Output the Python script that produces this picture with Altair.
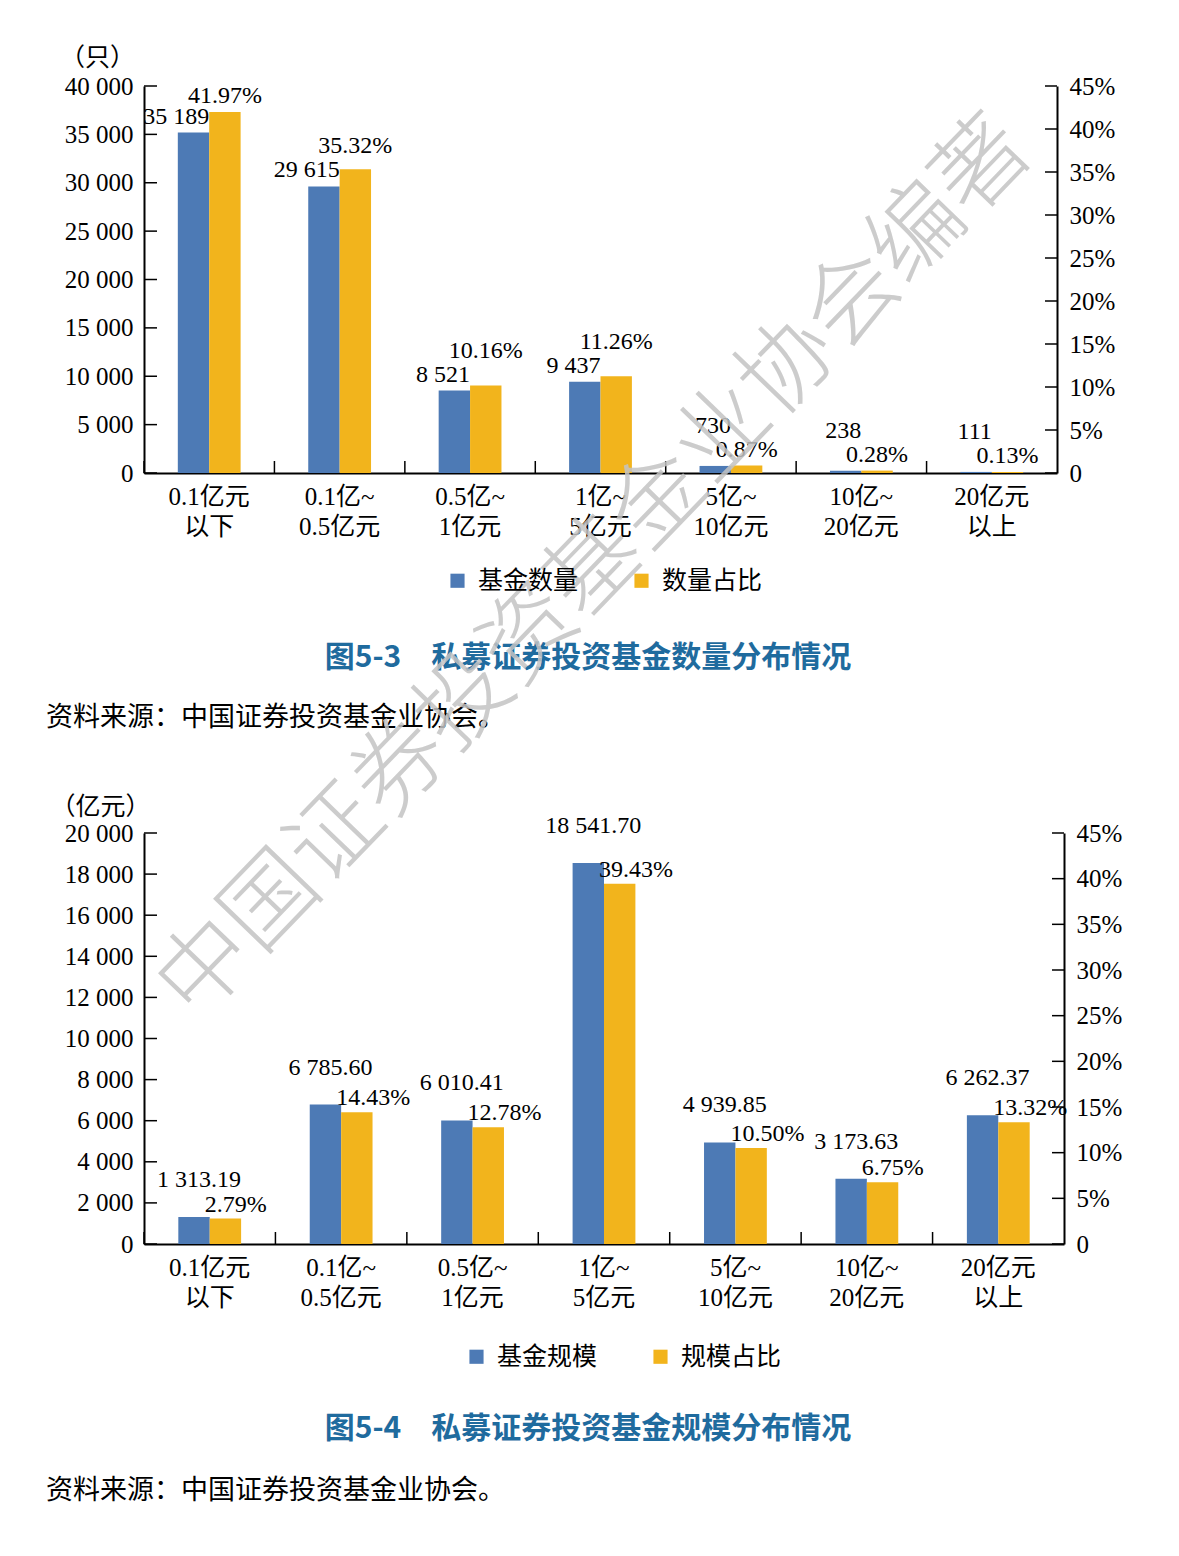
import altair as alt
import pandas as pd

# ---------------- data ----------------
categories = ["0.1亿元|以下", "0.1亿~|0.5亿元", "0.5亿~|1亿元", "1亿~|5亿元",
              "5亿~|10亿元", "10亿~|20亿元", "20亿元|以上"]
fund_count = [35189, 29615, 8521, 9437, 730, 238, 111]          # 只
count_share = [41.97, 35.32, 10.16, 11.26, 0.87, 0.28, 0.13]    # %
fund_size = [1313.19, 6785.60, 6010.41, 18541.70, 4939.85, 3173.63, 6262.37]  # 亿元
size_share = [2.79, 14.43, 12.78, 39.43, 10.50, 6.75, 13.32]    # %

count_ticks = [0, 5000, 10000, 15000, 20000, 25000, 30000, 35000, 40000]
size_ticks = [0, 2000, 4000, 6000, 8000, 10000, 12000, 14000, 16000, 18000, 20000]
share_ticks = [0, 5, 10, 15, 20, 25, 30, 35, 40, 45]

names1 = ["基金数量", "数量占比"]
names2 = ["基金规模", "规模占比"]
caption1 = "图5-3　私募证券投资基金数量分布情况"
caption2 = "图5-4　私募证券投资基金规模分布情况"
source_text = "资料来源：中国证券投资基金业协会。"
watermark = "中国证券投资基金业协会编著"

# ---------------- style ----------------
BLUE = "#4d7ab5"
YELLOW = "#f2b41c"
TITLE_BLUE = "#1f6b9e"
SERIF = "Liberation Serif, Noto Sans CJK SC"
CJK = "Noto Sans CJK SC"
SEP = " "  # thousands separator
BW = 31.4
FONT = 25     # axis labels
LBL = 24      # bar labels


def fmt(v, dec):
    return f"{v:,.{dec}f}".replace(",", SEP)


X_AXIS = alt.Axis(title=None, labelExpr="split(datum.label, '|')", labelAngle=0,
                  ticks=False, domainColor="black", domainWidth=2,
                  labelFont=SERIF, labelFontSize=FONT, labelColor="black",
                  labelLineHeight=30, labelPadding=11, labelBaseline="top")


def xenc(band=None):
    kw = dict(sort=categories, scale=alt.Scale(paddingInner=0, paddingOuter=0), axis=X_AXIS)
    if band is not None:
        kw["bandPosition"] = band
    return alt.X("cat:N", **kw)


def build(values, shares, names, left_max, left_ticks, W, H, unit, unit_xy,
          legend_xy, caption, caption_xy, source_xy, num_lbl, pct_lbl,
          num_mark, pct_mark, dec, extra=None):
    ls = alt.Scale(domain=[0, left_max], nice=False, zero=True)
    rs = alt.Scale(domain=[0, 45], nice=False, zero=True)
    cs = alt.Scale(domain=names, range=[BLUE, YELLOW])
    legend = alt.Legend(orient="none", legendX=legend_xy[0], legendY=legend_xy[1],
                        direction="horizontal", title=None, symbolType="square",
                        symbolSize=200, symbolStrokeWidth=0, labelFont=CJK,
                        labelFontSize=25, labelColor="black", columnPadding=50,
                        labelOffset=8, padding=0)

    dl = pd.DataFrame({"cat": categories, "v": values, "series": names[0],
                       "ly": num_lbl, "label": [fmt(v, dec) for v in values]})
    dr = pd.DataFrame({"cat": categories, "v": shares, "series": names[1],
                       "ly": pct_lbl, "label": [f"{p:.2f}%" for p in shares]})

    left_axis = alt.Axis(orient="left", title=unit, titleAngle=0, titleAlign="center",
                         titleBaseline="middle", titleX=unit_xy[0], titleY=unit_xy[1],
                         titleFont=SERIF, titleFontSize=FONT, titleFontWeight="normal",
                         titleColor="black", values=left_ticks,
                         labelExpr="replace(format(datum.value, ','), ',', ' ')",
                         ticks=False, domainColor="black", domainWidth=2, grid=False,
                         labelFont=SERIF, labelFontSize=FONT, labelColor="black",
                         labelPadding=11)
    right_axis = alt.Axis(orient="right", title=None, values=share_ticks,
                          labelExpr="datum.value == 0 ? '0' : datum.value + '%'",
                          ticks=False, domainColor="black", domainWidth=2, grid=False,
                          labelFont=SERIF, labelFontSize=FONT, labelColor="black",
                          labelPadding=12)

    bars_l = alt.Chart(dl).mark_bar(width=BW, xOffset=-BW / 2).encode(
        x=xenc(),
        y=alt.Y("v:Q", scale=ls, axis=left_axis),
        color=alt.Color("series:N", scale=cs, legend=legend),
    )
    ticks_l = alt.Chart(pd.DataFrame({"v": left_ticks})).mark_rule(
        color="black", strokeWidth=1.5).encode(
        y=alt.Y("v:Q", scale=ls, axis=left_axis), x=alt.value(0), x2=alt.value(13))
    ticks_x = alt.Chart(pd.DataFrame({"cat": categories})).mark_rule(
        color="black", strokeWidth=1.5).encode(
        x=xenc(band=0), y=alt.value(H), y2=alt.value(H - 12))
    text_l = alt.Chart(dl).mark_text(font=SERIF, fontSize=LBL, color="black",
                                     baseline="middle", **num_mark).encode(
        x=xenc(), y=alt.Y("ly:Q", scale=ls, axis=left_axis), text="label:N")
    cap = alt.Chart(pd.DataFrame({"t": [caption]})).mark_text(
        font=CJK, fontSize=30, fontWeight="bold", color=TITLE_BLUE,
        align="center", baseline="middle").encode(
        text="t:N", x=alt.value(caption_xy[0]), y=alt.value(caption_xy[1]))
    src = alt.Chart(pd.DataFrame({"t": [source_text]})).mark_text(
        font=CJK, fontSize=27, color="black", align="left", baseline="middle").encode(
        text="t:N", x=alt.value(source_xy[0]), y=alt.value(source_xy[1]))

    left_layers = [bars_l, ticks_l, ticks_x, text_l, cap, src]

    bars_r = alt.Chart(dr).mark_bar(width=BW, xOffset=BW / 2).encode(
        x=xenc(),
        y=alt.Y("v:Q", scale=rs, axis=right_axis),
        color=alt.Color("series:N", scale=cs, legend=legend),
    )
    ticks_r = alt.Chart(pd.DataFrame({"v": share_ticks})).mark_rule(
        color="black", strokeWidth=1.5).encode(
        y=alt.Y("v:Q", scale=rs, axis=right_axis), x=alt.value(W - 12), x2=alt.value(W))
    text_r = alt.Chart(dr).mark_text(font=SERIF, fontSize=LBL, color="black",
                                     baseline="middle", **pct_mark).encode(
        x=xenc(), y=alt.Y("ly:Q", scale=rs, axis=right_axis), text="label:N")
    right_layers = [bars_r, ticks_r, text_r]
    if extra is not None:
        right_layers.append(extra)

    return alt.layer(alt.layer(*left_layers), alt.layer(*right_layers)).resolve_scale(
        y="independent").properties(width=W, height=H)


# ---------------- chart 1 (counts) ----------------
W1, H1 = 913, 387
GAP, LIFT = 16, 24
num1, pct1 = [], []
for c, p in zip(fund_count, count_share):
    bn = c / 40000 * H1
    bp = p / 45 * H1
    n_px, p_px = bn + GAP, bp + GAP
    if abs(p_px - n_px) < 20:
        if max(bn, bp) < 20:          # tiny bars: lift the count label
            n_px = max(n_px, p_px) + LIFT
        else:                         # otherwise lift the share label
            p_px = n_px + LIFT
    num1.append(n_px / H1 * 40000)
    pct1.append(p_px / H1 * 45)

wm = alt.Chart(pd.DataFrame({"t": [watermark]})).mark_text(
    font=CJK, fontSize=93, fontWeight=300, color="#c4c4c4", opacity=0.85,
    angle=314, align="center", baseline="middle").encode(
    text="t:N", x=alt.value(451), y=alt.value(482))

chart1 = build(fund_count, count_share, names1, 40000, count_ticks, W1, H1,
               "（只）", (-47, -29), (301, 482), caption1, (444, 572), (-98, 632),
               num1, pct1,
               dict(align="right", dx=0), dict(align="center", dx=BW / 2), 0,
               extra=wm)

# ---------------- chart 2 (sizes) ----------------
W2, H2 = 920, 411
chart2 = build(fund_size, size_share, names2, 20000, size_ticks, W2, H2,
               "（亿元）", (-44, -27), (320, 511), caption2, (444, 596), (-98, 658),
               fund_size, size_share,
               dict(align="center", dx=-BW / 2 + 5, dy=-37),
               dict(align="left", dx=-5, dy=-14), 2)

chart = alt.vconcat(chart1, chart2, spacing=360, bounds="flush").resolve_scale(
    x="independent", y="independent", color="independent"
).properties(
    padding={"left": 38, "top": 37, "right": 5, "bottom": 5},
    background="white",
).configure_view(stroke=None)

chart.save("out.html", embed_options={"renderer": "svg", "actions": False})
